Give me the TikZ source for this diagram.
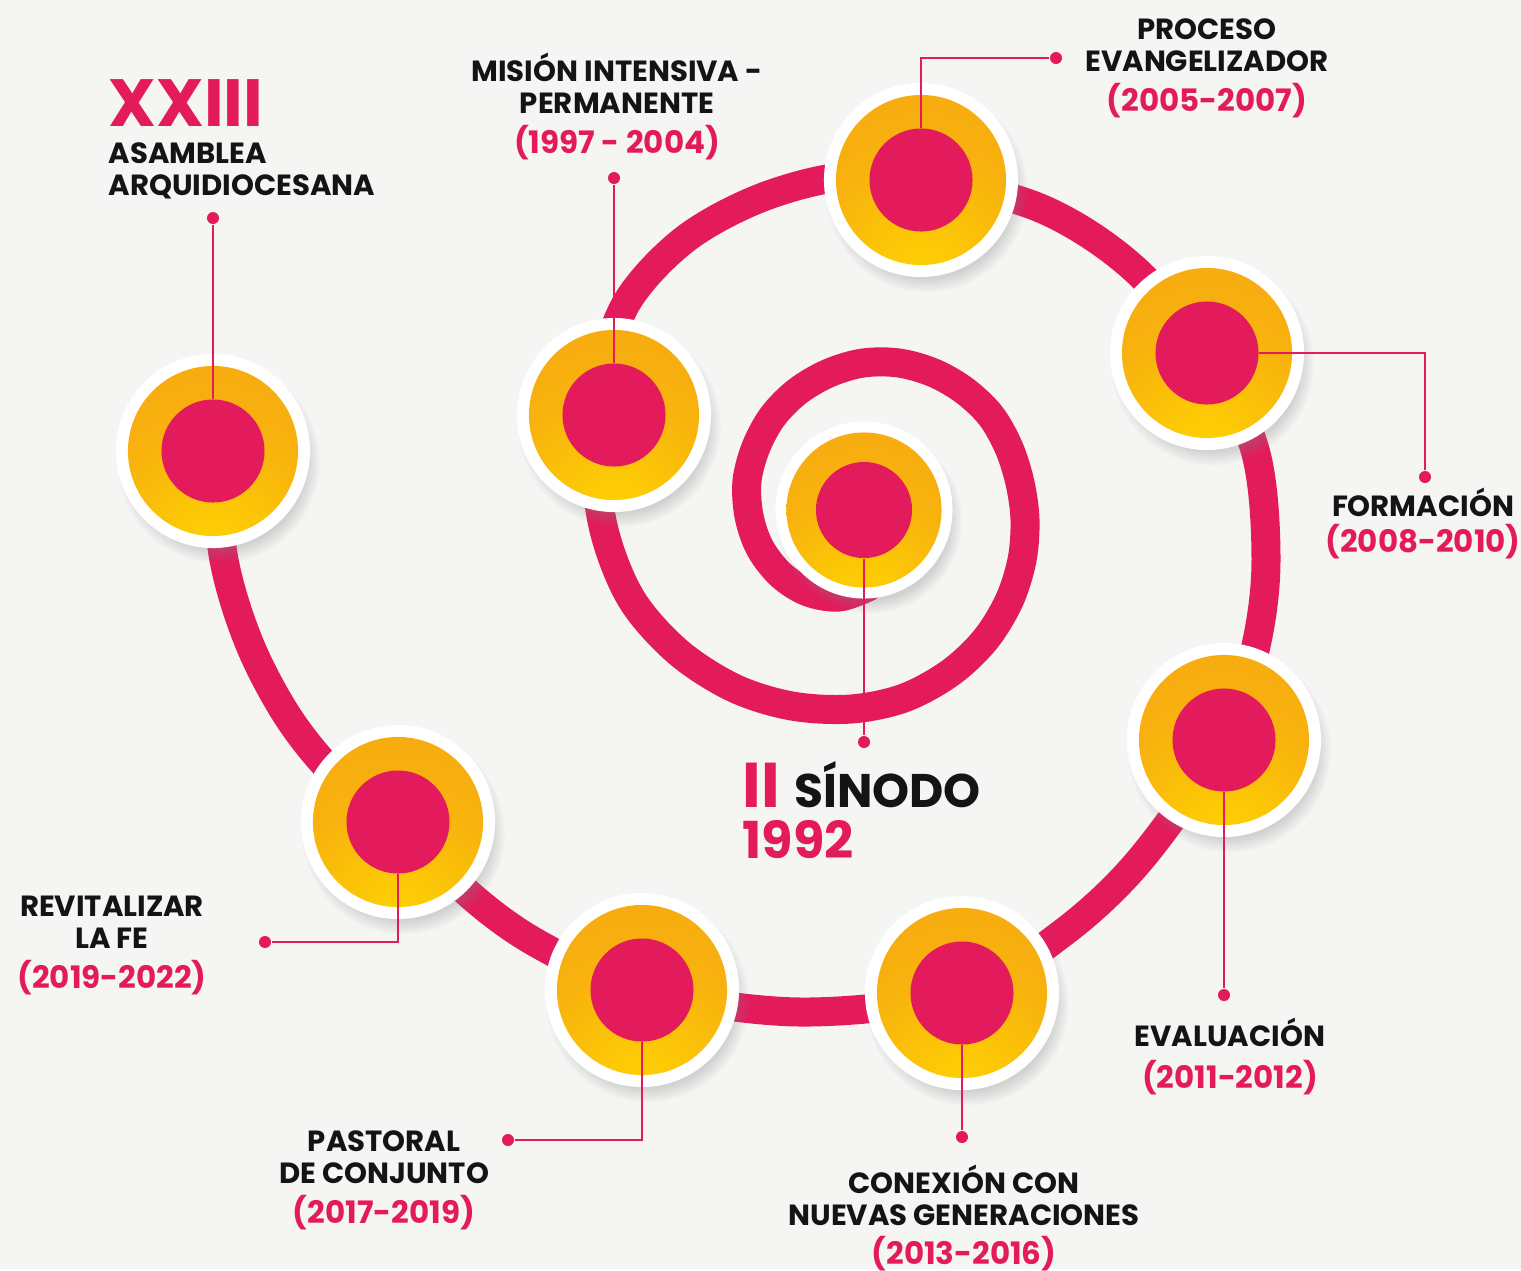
\documentclass[tikz,border=0pt]{standalone}
\usepackage{fontspec}
\setmainfont{Poppins}
\usetikzlibrary{shadows}

\definecolor{pinkc}{HTML}{E31B5C}
\definecolor{ringora}{HTML}{F39C12}
\definecolor{ringmid}{HTML}{F8B20E}
\definecolor{ringyel}{HTML}{FFD600}
\definecolor{bgc}{HTML}{F5F5F3}
\definecolor{inkc}{HTML}{141414}

\pgfdeclareradialshading{ringglow}{\pgfpoint{0bp}{-34bp}}{%
  color(0bp)=(ringyel); color(32bp)=(ringmid); color(72bp)=(ringora); color(100bp)=(ringora)}

\newcommand{\yeartag}[1]{{\fontsize{8.8}{8.8}\selectfont\color{pinkc}#1}}

\begin{document}
\begin{tikzpicture}[
    x=0.01cm, y=-0.01cm,
    spiral/.style={draw=pinkc, line width=0.29cm, line cap=round},
    halo/.style={circle, fill=white, inner sep=0, minimum size=1.94cm,
      circular drop shadow={shadow xshift=0.5mm, shadow yshift=-1mm, shadow scale=1.05, opacity=0.3}},
    ring/.style={circle, inner sep=0, minimum size=1.7cm, shading=ringglow},
    core/.style={circle, fill=pinkc, inner sep=0, minimum size=1.03cm},
    link/.style={draw=pinkc, line width=0.02cm},
    enddot/.style={circle, fill=pinkc, inner sep=0, minimum size=0.12cm},
    stagetext/.style={font=\fontsize{8.3}{9.1}\selectfont\bfseries, text=inkc, align=center, inner sep=0, anchor=north}
]
\fill[bgc] (0,0) rectangle (1521,1269);

% the spiral track
\draw[spiral] plot[smooth, tension=0.55] coordinates {(213,451) (224,560) (250,645) (290,720) (340,780) (398,822)
  (470,895) (540,945) (642,990) (800,1012) (962,993) (1060,935) (1140,860) (1224,740) (1255,650) (1266,560)
  (1255,450) (1207,353) (1130,265) (1040,208) (925,179) (840,177) (758,199) (684,240) (627,302) (600,381)
  (595,460) (605,534) (632,600) (678,652) (734,688) (792,706) (851,709) (904,698) (950,673) (985,640)
  (1009,601) (1022,560) (1025,520) (1020,483) (1009,448) (991,416) (965,391) (934,373) (899,363) (863,363)
  (829,373) (798,391) (773,416) (756,447) (747,481) (749,516) (760,548) (781,575) (808,592) (839,597) (868,587)};

% stations
\foreach \nm/\px/\py in {asamblea/213/451, revitalizar/398/822, pastoral/642/990, conexion/962/993, evaluacion/1224/740, formacion/1207/353, proceso/921/180, mision/614/415}{
  \node[halo] (\nm-halo) at (\px,\py) {};
  \node[ring] (\nm-ring) at (\px,\py) {};
  \node[core] (\nm) at (\px,\py) {};
}
\node[halo, minimum size=1.77cm] (sinodo-halo) at (864,510) {};
\node[ring, minimum size=1.55cm] (sinodo-ring) at (864,510) {};
\node[core, minimum size=0.96cm] (sinodo) at (864,510) {};

% end dots
\node[enddot] (sinodoEnd) at (864,742) {};
\node[enddot] (misionEnd) at (614,178) {};
\node[enddot] (procesoEnd) at (1056,58) {};
\node[enddot] (formacionEnd) at (1425,477) {};
\node[enddot] (evaluacionEnd) at (1224,995) {};
\node[enddot] (conexionEnd) at (962,1137) {};
\node[enddot] (pastoralEnd) at (508,1140) {};
\node[enddot] (revitalizarEnd) at (265,942) {};
\node[enddot] (asambleaEnd) at (213,218) {};

\draw[link] (sinodo) -- (sinodoEnd);
\draw[link] (mision) -- (misionEnd);
\draw[link] (proceso) |- (procesoEnd);
\draw[link] (formacion) -| (formacionEnd);
\draw[link] (evaluacion) -- (evaluacionEnd);
\draw[link] (conexion) -- (conexionEnd);
\draw[link] (pastoral) |- (pastoralEnd);
\draw[link] (revitalizar) |- (revitalizarEnd);
\draw[link] (asamblea) -- (asambleaEnd);

% texts
\node[stagetext, anchor=north west, align=left] (asambleaText) at (108,79)
  {{\fontsize{19}{19}\selectfont\color{pinkc}XXIII}\\[1.5pt]ASAMBLEA\\ARQUIDIOCESANA};
\node[stagetext] (misionText) at (617,52) {MISIÓN INTENSIVA -\\PERMANENTE\\[2.3pt]\yeartag{(1997 - 2004)}};
\node[stagetext] (procesoText) at (1207,18) {PROCESO\\EVANGELIZADOR\\[2.3pt]\yeartag{(2005-2007)}};
\node[stagetext] (formacionText) at (1423,487) {FORMACIÓN\\[1.1pt]\yeartag{(2008-2010)}};
\node[stagetext] (evaluacionText) at (1230,1017) {EVALUACIÓN\\[2.9pt]\yeartag{(2011-2012)}};
\node[stagetext] (conexionText) at (964,1164) {CONEXIÓN CON\\NUEVAS GENERACIONES\\[2pt]\yeartag{(2013-2016)}};
\node[stagetext] (pastoralText) at (384,1130) {PASTORAL\\DE CONJUNTO\\[2.3pt]\yeartag{(2017-2019)}};
\node[stagetext] (revitalizarText) at (112,895) {REVITALIZAR\\LA FE\\[2.3pt]\yeartag{(2019-2022)}};
\node[stagetext, anchor=base west, font=\fontsize{13.4}{14}\selectfont\bfseries] (sinodoText) at (742,807)
  {{\fontsize{18}{18}\selectfont\color{pinkc}II}\hspace{4pt}SÍNODO};
\node[stagetext, anchor=base west, font=\fontsize{14.5}{15}\selectfont\bfseries, text=pinkc] (sinodoYear) at (742,858) {1992};
\end{tikzpicture}
\end{document}
